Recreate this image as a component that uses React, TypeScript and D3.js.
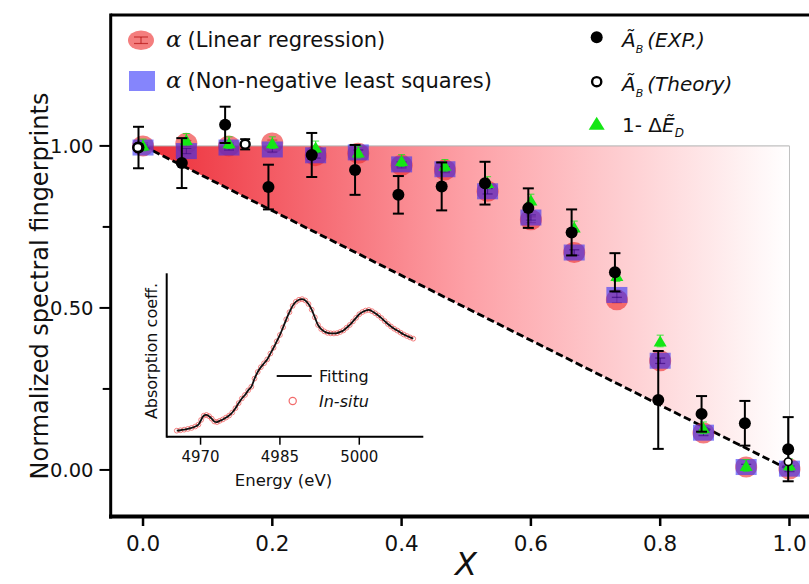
import React from "react";
import * as d3 from "d3";

// Composition grid (fraction X) shared by the fitted-coefficient series
const compX = [0, 0.067, 0.133, 0.2, 0.267, 0.333, 0.4, 0.467, 0.533, 0.6, 0.667, 0.733, 0.8, 0.867, 0.933, 1.0];
// α from linear regression
const alphaLinReg = [1.0, 1.008, 1.0, 1.009, 0.97, 0.977, 0.94, 0.926, 0.86, 0.772, 0.671, 0.525, 0.337, 0.114, 0.009, 0.003];
// α from non-negative least squares
const alphaNNLS = [0.995, 0.984, 0.995, 0.989, 0.971, 0.98, 0.943, 0.928, 0.86, 0.779, 0.671, 0.54, 0.337, 0.115, 0.009, 0.004];
// 1 - ΔẼ_D
const oneMinusDeltaE = [1.003, 1.02, 1.01, 1.01, 0.997, 0.981, 0.955, 0.94, 0.887, 0.833, 0.75, 0.6, 0.398, 0.13, 0.014, 0.016];

// Ã_B experimental with error bars
const expX = [-0.007, 0.06, 0.127, 0.194, 0.261, 0.328, 0.395, 0.462, 0.529, 0.596, 0.663, 0.73, 0.797, 0.864, 0.931, 0.998];
const expY = [0.995, 0.947, 1.065, 0.873, 0.972, 0.926, 0.849, 0.875, 0.885, 0.808, 0.733, 0.61, 0.216, 0.173, 0.144, 0.064];
const expErr = [0.064, 0.077, 0.056, 0.069, 0.068, 0.077, 0.058, 0.074, 0.066, 0.061, 0.071, 0.059, 0.151, 0.055, 0.069, 0.099];

// Ã_B theory
const theoryX = [-0.008, 0.158, 0.998];
const theoryY = [0.995, 1.005, 0.025];
const theoryErr = [0, 0.016, 0];

const xTicks = [0, 0.2, 0.4, 0.6, 0.8, 1.0];
const yTicksMajor = [0, 0.5, 1.0];
const yTicksMinor = [0.25, 0.75];

// Inset: XANES spectrum (in-situ measurement and fit)
const inSituE = [
  4965.5, 4966.2, 4966.9, 4967.6, 4968.3, 4969.0, 4969.6, 4970.1, 4970.6, 4971.1, 4971.6, 4972.1, 4972.6, 4973.1,
  4973.6, 4974.2, 4974.8, 4975.4, 4976.0, 4976.6, 4977.2, 4977.8, 4978.4, 4979.0, 4979.6, 4980.2, 4980.8, 4981.4,
  4982.0, 4982.6, 4983.2, 4983.8, 4984.4, 4985.0, 4985.6, 4986.2, 4986.8, 4987.4, 4988.0, 4988.6, 4989.2, 4989.8,
  4990.4, 4991.0, 4991.6, 4992.2, 4992.8, 4993.4, 4994.0, 4994.6, 4995.2, 4995.8, 4996.4, 4997.0, 4997.6, 4998.2,
  4998.8, 4999.4, 5000.0, 5000.6, 5001.2, 5001.8, 5002.4, 5003.0, 5003.6, 5004.2, 5004.8, 5005.4, 5006.0, 5006.6,
  5007.2, 5007.8, 5008.4, 5009.0, 5009.6, 5010.2,
];
const inSituMu = [
  0.01, 0.014, 0.02, 0.027, 0.037, 0.051, 0.07, 0.115, 0.157, 0.164, 0.152, 0.128, 0.1, 0.094,
  0.106, 0.12, 0.138, 0.158, 0.188, 0.23, 0.28, 0.325, 0.36, 0.405, 0.44, 0.52, 0.585, 0.632,
  0.67, 0.708, 0.765, 0.822, 0.885, 0.947, 1.022, 1.1, 1.17, 1.232, 1.272, 1.292, 1.298, 1.285,
  1.25, 1.195, 1.12, 1.045, 1.005, 0.982, 0.968, 0.963, 0.962, 0.965, 0.977, 0.992, 1.018, 1.045,
  1.08, 1.115, 1.15, 1.172, 1.186, 1.192, 1.18, 1.16, 1.138, 1.112, 1.083, 1.055, 1.03, 1.008,
  0.99, 0.97, 0.952, 0.937, 0.923, 0.911,
];
const insetTicks = [4970, 4985, 5000];

const FONT = "DejaVu Sans, Verdana, sans-serif";
const GREEN = "#14e614";

export default function App() {
  const W = 809;
  const H = 584;
  const x = d3.scaleLinear().domain([-0.05, 1.05]).range([110.7, 821.8]);
  const y = d3.scaleLinear().domain([-0.144, 1.404]).range([516.6, 15]);

  const ix = d3.scaleLinear().domain([4963.6, 5012.1]).range([166.7, 423.3]);
  const iy = d3.scaleLinear().domain([-0.049, 1.551]).range([436.7, 273.3]);

  const triPath = `M${x(0)},${y(1)} L${x(1)},${y(1)} L${x(1)},${y(0)} Z`;
  const fitLine = d3
    .line<number>()
    .x((_, i) => ix(inSituE[i]))
    .y((d) => iy(d))
    .curve(d3.curveCatmullRom);

  const tri = (cx: number, cy: number, w: number, h: number) =>
    `M${cx - w / 2},${cy + h / 2} L${cx + w / 2},${cy + h / 2} L${cx},${cy - h / 2} Z`;

  const errBar = (cx: number, v: number, e: number, cap: number, color: string, sw: number, key: string) => (
    <g key={key} stroke={color} strokeWidth={sw}>
      <line x1={cx} x2={cx} y1={y(v - e)} y2={y(v + e)} />
      <line x1={cx - cap / 2} x2={cx + cap / 2} y1={y(v - e)} y2={y(v - e)} />
      <line x1={cx - cap / 2} x2={cx + cap / 2} y1={y(v + e)} y2={y(v + e)} />
    </g>
  );

  return (
    <svg width={W} height={H} style={{ position: "absolute", left: 0, top: 0, background: "#fff" }} fontFamily={FONT}>
      <defs>
        <linearGradient id="redFade" gradientUnits="userSpaceOnUse" x1={x(0)} x2={x(1)} y1={0} y2={0}>
          <stop offset="0" stopColor="rgb(237,45,56)" />
          <stop offset="0.5" stopColor="rgb(253,160,166)" />
          <stop offset="1" stopColor="#ffffff" />
        </linearGradient>
      </defs>

      {/* shaded region between ideal line and unity */}
      <path d={triPath} fill="url(#redFade)" stroke="none" />
      <line x1={x(0)} x2={x(1)} y1={y(1)} y2={y(1)} stroke="#b0b0b0" strokeWidth={1} />
      <line x1={x(1)} x2={x(1)} y1={y(1)} y2={y(0)} stroke="#c0c0c0" strokeWidth={1} />
      <line x1={x(0)} y1={y(1)} x2={x(1)} y2={y(0)} stroke="#000" strokeWidth={2.8} strokeDasharray="7.5 3.5" />

      {/* inset spectrum */}
      <g>
        {inSituMu.map((v, i) => (
          <circle key={"is" + i} cx={ix(inSituE[i])} cy={iy(v)} r={2.4} fill="none" stroke="rgba(240,90,90,0.75)" strokeWidth={1} />
        ))}
        <path d={fitLine(inSituMu) || ""} fill="none" stroke="#111" strokeWidth={1.8} />
        <line x1={ix.range()[0]} x2={ix.range()[0]} y1={iy.range()[1]} y2={iy.range()[0] + 1} stroke="#000" strokeWidth={2} />
        <line x1={ix.range()[0]} x2={ix.range()[1]} y1={iy.range()[0]} y2={iy.range()[0]} stroke="#000" strokeWidth={2} />
        {insetTicks.map((t) => (
          <g key={"it" + t}>
            <line x1={ix(t)} x2={ix(t)} y1={iy.range()[0]} y2={iy.range()[0] + 8} stroke="#000" strokeWidth={1.5} />
            <text x={ix(t)} y={461.5} fontSize={15} textAnchor="middle" fill="#111">
              {t}
            </text>
          </g>
        ))}
        <text x={283.5} y={486} fontSize={16.5} textAnchor="middle" fill="#111">
          Energy (eV)
        </text>
        <text transform="translate(157,351) rotate(-90)" fontSize={16} textAnchor="middle" fill="#111">
          Absorption coeff.
        </text>
        <line x1={276.7} x2={311.7} y1={376} y2={376} stroke="#111" strokeWidth={2} />
        <text x={319} y={382} fontSize={16} fill="#111">Fitting</text>
        <circle cx={292.7} cy={401} r={3.6} fill="none" stroke="rgba(240,80,80,0.85)" strokeWidth={1.2} />
        <text x={319} y={407} fontSize={16} fontStyle="italic" fill="#111">In-situ</text>
      </g>

      {/* α linear regression: red ellipses */}
      {alphaLinReg.map((v, i) => (
        <g key={"lr" + i}>
          <ellipse cx={x(compX[i])} cy={y(v)} rx={11} ry={10.5} fill="rgba(236,40,40,0.6)" />
          {errBar(x(compX[i]), v, 0.009, 10, "rgba(170,0,0,0.55)", 1, "lre" + i)}
        </g>
      ))}
      {/* α NNLS: blue squares */}
      {alphaNNLS.map((v, i) => (
        <g key={"nn" + i}>
          <rect x={x(compX[i]) - 10.5} y={y(v) - 8} width={21} height={16} fill="rgba(45,45,250,0.58)" />
          {errBar(x(compX[i]), v, 0.008, 10, "rgba(40,0,120,0.5)", 1, "nne" + i)}
        </g>
      ))}
      {/* 1 - ΔẼ_D: green triangles */}
      {oneMinusDeltaE.map((v, i) => (
        <g key={"de" + i}>
          {errBar(x(compX[i]), v, 0.018, 7, GREEN, 0.8, "dee" + i)}
          <path d={tri(x(compX[i]), y(v), 13, 11)} fill={GREEN} />
        </g>
      ))}
      {/* Ã_B EXP */}
      {expY.map((v, i) => (
        <g key={"ex" + i}>
          {errBar(x(expX[i]), v, expErr[i], 11, "#000", 2, "exe" + i)}
          <circle cx={x(expX[i])} cy={y(v)} r={6} fill="#000" />
        </g>
      ))}
      {/* Ã_B theory */}
      {theoryY.map((v, i) => (
        <g key={"th" + i}>
          {theoryErr[i] > 0 ? errBar(x(theoryX[i]), v, theoryErr[i], 10, "#000", 1.8, "the" + i) : null}
          <circle cx={x(theoryX[i])} cy={y(v)} r={i === 2 ? 3.8 : 4.5} fill="#fff" stroke="#000" strokeWidth={i === 2 ? 1.6 : 2.4} />
        </g>
      ))}

      {/* frame and axes */}
      <line x1={110.7} x2={W} y1={15} y2={15} stroke="#000" strokeWidth={3} />
      <line x1={110.7} x2={110.7} y1={13.5} y2={518.6} stroke="#000" strokeWidth={3} />
      <line x1={109} x2={W} y1={516.6} y2={516.6} stroke="#000" strokeWidth={4} />
      {xTicks.map((t) => (
        <g key={"xt" + t}>
          <line x1={x(t)} x2={x(t)} y1={518} y2={526} stroke="#000" strokeWidth={2.5} />
          <text x={x(t)} y={550.5} fontSize={21.5} textAnchor="middle" fill="#111">
            {t.toFixed(1)}
          </text>
        </g>
      ))}
      {yTicksMajor.map((t) => (
        <g key={"yt" + t}>
          <line x1={99.5} x2={110} y1={y(t)} y2={y(t)} stroke="#000" strokeWidth={2} />
          <text x={93.5} y={y(t) + 7.2} fontSize={19.5} textAnchor="end" fill="#111">
            {t.toFixed(2)}
          </text>
        </g>
      ))}
      {yTicksMinor.map((t) => (
        <line key={"ym" + t} x1={102.7} x2={110} y1={y(t)} y2={y(t)} stroke="#000" strokeWidth={2} />
      ))}
      <text transform="translate(48,286) rotate(-90)" fontSize={24} textAnchor="middle" fill="#111">
        Normalized spectral fingerprints
      </text>
      <text x={466} y={575} fontSize={32} fontStyle="italic" textAnchor="middle" fill="#111">
        X
      </text>

      {/* legend, left column */}
      <ellipse cx={141} cy={40.3} rx={13} ry={9.8} fill="rgba(236,40,40,0.6)" />
      <g stroke="rgba(170,0,0,0.6)" strokeWidth={1.2}>
        <line x1={134} x2={148} y1={37} y2={37} />
        <line x1={134} x2={148} y1={43.5} y2={43.5} />
        <line x1={141} x2={141} y1={37} y2={43.5} />
      </g>
      <text x={166} y={47} fontSize={21} fill="#111">
        <tspan fontFamily="DejaVu Serif, serif" fontStyle="italic" fontSize={23}>α</tspan>
        <tspan dx={6}>(Linear regression)</tspan>
      </text>
      <rect x={129} y={71} width={26} height={20} fill="rgba(45,45,250,0.58)" />
      <text x={166} y={87.5} fontSize={21} fill="#111">
        <tspan fontFamily="DejaVu Serif, serif" fontStyle="italic" fontSize={23}>α</tspan>
        <tspan dx={6}>(Non-negative least squares)</tspan>
      </text>

      {/* legend, right column */}
      <circle cx={596.7} cy={37.3} r={6} fill="#000" />
      <text x={622} y={47} fontSize={20} fill="#111" fontStyle="italic">
        Ã<tspan fontSize={11} dy={6}>B</tspan>
        <tspan dy={-6} dx={4}>(EXP.)</tspan>
      </text>
      <circle cx={596.7} cy={81.7} r={4.6} fill="#fff" stroke="#000" strokeWidth={2.4} />
      <text x={622} y={90.5} fontSize={20} fill="#111" fontStyle="italic">
        Ã<tspan fontSize={11} dy={6}>B</tspan>
        <tspan dy={-6} dx={4}>(Theory)</tspan>
      </text>
      <path d={tri(596.7, 123.3, 16, 13)} fill={GREEN} />
      <text x={622} y={131.5} fontSize={20} fill="#111">
        1- Δ<tspan fontStyle="italic">Ẽ</tspan>
        <tspan fontSize={12} dy={5} fontStyle="italic">D</tspan>
      </text>
    </svg>
  );
}
